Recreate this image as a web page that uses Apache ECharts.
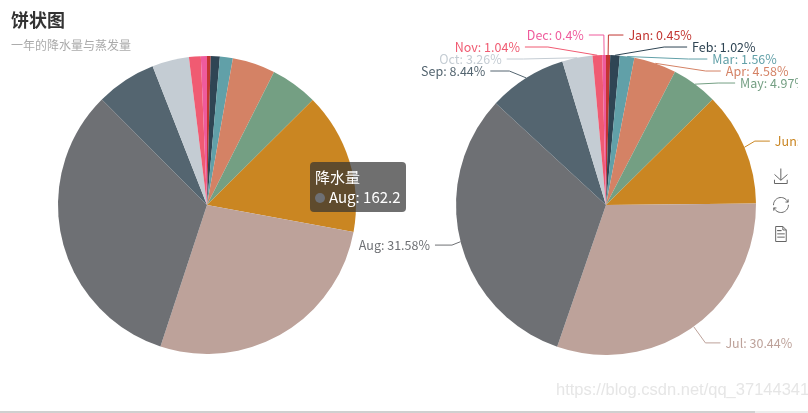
<!DOCTYPE html>
<html><head><meta charset="utf-8">
<style>html,body{margin:0;padding:0;background:#fff;overflow:hidden}#wrap{position:absolute;left:0;top:0;width:808px;height:413px;overflow:hidden}#main{position:absolute;left:0;top:0;width:960px;height:413px}</style>
<script src="https://cdn.jsdelivr.net/npm/echarts@6/dist/echarts.min.js"></script>
</head><body><div id="wrap"><div id="main"></div></div>
<script>
const months=['Jan','Feb','Mar','Apr','May','Jun','Jul','Aug','Sep','Oct','Nov','Dec'];
const leftValues=[2.0,4.9,7.0,23.2,25.6,76.7,135.6,162.2,32.6,20.0,6.4,3.3];
const rightValues=[2.6,5.9,9.0,26.4,28.7,70.7,175.6,182.2,48.7,18.8,6.0,2.3];
const palette=['#c23531','#2f4554','#61a0a8','#d48265','#749f83','#ca8622','#bda29a','#6e7074','#546570','#c4ccd3','#f05b72','#ef5b9c'];
const font='"Noto Sans CJK SC","Noto Sans",sans-serif';
const lineOverrides={Jun:{length:16},Aug:{length:14,length2:17},Sep:{length:15,length2:19},May:{length:18,length2:17},Feb:{length2:23},Mar:{length2:19},Nov:{length2:23},Oct:{length2:17}};
const toPairs=v=>months.map((m,i)=>({name:m,value:v[i]}));
const rightData=toPairs(rightValues).map(d=>lineOverrides[d.name]?{...d,labelLine:lineOverrides[d.name]}:d);
const chart=echarts.init(document.getElementById('main'),null,{renderer:'canvas'});
chart.setOption({
  animation:false,
  color:palette,
  textStyle:{fontFamily:font},
  title:{text:'饼状图',subtext:'一年的降水量与蒸发量',left:6,top:6,itemGap:10,
    textStyle:{fontSize:18,fontWeight:'bold',color:'#333',fontFamily:font},
    subtextStyle:{fontSize:12,color:'#aaa',fontFamily:font}},
  tooltip:{trigger:'item',transitionDuration:0,showDelay:0,
    formatter:p=>p.seriesName+'<br/>'+p.marker+p.name+': '+p.value,
    backgroundColor:'rgba(50,50,50,0.7)',borderWidth:0,borderRadius:4,padding:5,
    textStyle:{color:'#fff',fontSize:15,fontFamily:font},
    extraCssText:'box-shadow:none;line-height:20px;',
    position:[310,162]},
  toolbox:{show:true,orient:'vertical',left:756,top:151,itemSize:15,itemGap:9,
    iconStyle:{borderColor:'#666',color:'none'},
    feature:{saveAsImage:{title:''},restore:{title:''},dataView:{title:'',readOnly:true}}},
  graphic:[
    {type:'rect',z:100,silent:true,shape:{x:798,y:0,width:170,height:413},style:{fill:'#fff'}},
    {type:'rect',z:101,silent:true,shape:{x:0,y:411,width:755,height:2},style:{fill:'#d0d0d0'}},
    {type:'rect',z:101,silent:true,shape:{x:755,y:411,width:53,height:2},style:{fill:'#ececec'}},
    {type:'text',z:102,silent:true,left:556,top:382,style:{text:'https://blog.csdn.net/qq_37144341',fill:'#e6e6e6',font:'16.5px "Liberation Sans",sans-serif'}}
  ],
  series:[
    {name:'降水量',type:'pie',radius:149,center:[207,205],data:toPairs(leftValues),
     label:{show:false},labelLine:{show:false},emphasis:{disabled:true}},
    {name:'蒸发量',type:'pie',radius:150,center:[606,205],data:rightData,
     label:{show:true,formatter:'{b}: {d}%',fontSize:12.5,lineHeight:10,margin:-0.5,minMargin:-0.5,color:'inherit',overflow:'none',fontFamily:font},
     labelLine:{show:true,length:20,length2:15},emphasis:{disabled:true}}
  ]
});
chart.dispatchAction({type:'showTip',seriesIndex:0,dataIndex:7});
</script></body></html>
